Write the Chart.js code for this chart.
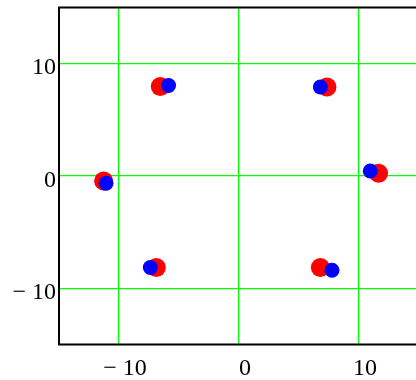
<!DOCTYPE html>
<html>
<head>
<meta charset="utf-8">
<script src="https://cdn.jsdelivr.net/npm/chart.js@4/dist/chart.umd.min.js"></script>
<style>
html,body{margin:0;padding:0;background:#fff;overflow:hidden;}
#wrap{width:420px;height:380px;}
</style>
</head>
<body>
<div id="wrap"><canvas id="c" width="420" height="380"></canvas></div>
<script>
const tickValues = [-10, 0, 10];
const tickLabels = {"-10": "\u2212 10", "0": "0", "10": "10"};
const redX = [-6.56, 7.33, 11.63, -11.28, -6.89, 6.78];
const redY = [7.97, 7.92, 0.24, -0.45, -8.15, -8.15];
const blueX = [-5.87, 6.78, 10.94, -11.08, -7.39, 7.75];
const blueY = [8.06, 7.92, 0.45, -0.65, -8.15, -8.39];

const toPts = (xs, ys) => xs.map((x, i) => ({x: x, y: ys[i]}));

const framePlugin = {
  id: 'frame',
  afterDraw(chart) {
    const a = chart.chartArea, ctx = chart.ctx;
    ctx.save();
    ctx.strokeStyle = '#000';
    ctx.lineWidth = 2;
    ctx.beginPath();
    ctx.moveTo(a.right + 5, a.top);
    ctx.lineTo(a.left, a.top);
    ctx.lineTo(a.left, a.bottom);
    ctx.lineTo(a.right + 5, a.bottom);
    ctx.stroke();
    ctx.restore();
  }
};

const FAMILY = '"Liberation Serif", "Times New Roman", Times, serif';
const font = {family: FAMILY, size: 24};
const isMain = v => tickValues.includes(Math.round(v * 1000) / 1000);
const gridColor = ctx => (ctx.tick && isMain(ctx.tick.value)) ? '#00ff00' : 'rgba(0,0,0,0)';
const labelFor = v => isMain(v) ? tickLabels[String(Math.round(v))] : '';

new Chart(document.getElementById('c'), {
  type: 'scatter',
  data: {
    datasets: [
      {data: toPts(blueX, blueY), backgroundColor: '#0000ff', borderWidth: 0, pointRadius: 7.5, pointHoverRadius: 7.5},
      {data: toPts(redX, redY), backgroundColor: '#ff0000', borderWidth: 0, pointRadius: 9.5, pointHoverRadius: 9.5}
    ]
  },
  options: {
    responsive: false,
    animation: false,
    events: [],
    layout: {autoPadding: false, padding: {top: 7.5, right: 1, left: 0, bottom: 0}},
    plugins: {legend: {display: false}, tooltip: {enabled: false}},
    scales: {
      x: {
        type: 'linear', min: -15, max: 15,
        ticks: {stepSize: 5, autoSkip: false, font: font, color: '#000', padding: 10, labelOffset: 6, maxRotation: 0,
          callback: labelFor},
        afterFit: s => { s.height = 35.5; s.paddingLeft = 0; s.paddingRight = 0; },
        grid: {color: gridColor, lineWidth: 1.3, drawTicks: false},
        border: {display: false}
      },
      y: {
        type: 'linear', min: -15, max: 15,
        ticks: {stepSize: 5, autoSkip: false, font: font, color: '#000', padding: 3, labelOffset: 4.5,
          callback: labelFor},
        afterFit: s => { s.width = 59; s.paddingTop = 0; s.paddingBottom = 0; },
        grid: {color: gridColor, lineWidth: 1.3, drawTicks: false},
        border: {display: false}
      }
    }
  },
  plugins: [framePlugin]
});
</script>
</body>
</html>
